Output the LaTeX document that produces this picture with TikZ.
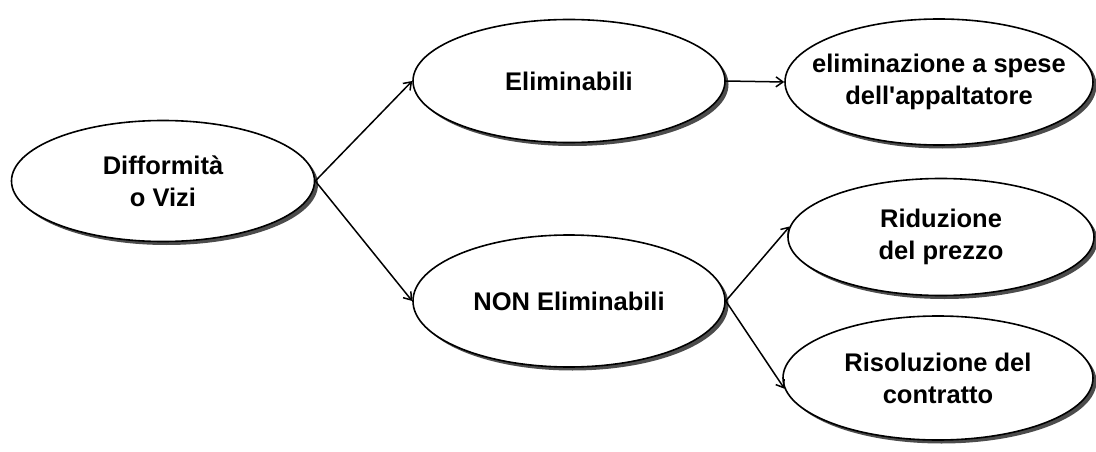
\documentclass[tikz,border=0pt]{standalone}
\usepackage{fontspec}
\setmainfont{Liberation Sans}[Ligatures=TeXOff]
\usetikzlibrary{shapes.geometric,shadows,arrows.meta}
\begin{document}
\begin{tikzpicture}[x=1pt,y=-1pt,
  oval/.style={ellipse, draw=black, line width=1.6pt, fill=white, inner sep=0pt,
    general shadow={fill=black!70, shadow xshift=3.5pt, shadow yshift=-3.5pt}},
  txt/.style={align=center, inner sep=0pt, font=\fontsize{25.5}{32}\selectfont\bfseries},
  conn/.style={line width=1.5pt, -{Straight Barb[length=7pt,width=10pt,line width=1.5pt]}}]
\useasboundingbox (0,0) rectangle (1096,452);
\node[oval, minimum width=303pt, minimum height=121pt] (dv) at (163,181) {};
\node[oval, minimum width=312pt, minimum height=123pt] (el) at (569,81) {};
\node[oval, minimum width=308pt, minimum height=126pt] (sp) at (939,82) {};
\node[oval, minimum width=312pt, minimum height=132pt] (ne) at (569,301) {};
\node[oval, minimum width=306pt, minimum height=117pt] (rp) at (941,237) {};
\node[oval, minimum width=310pt, minimum height=124pt] (rc) at (938,378) {};
\node[txt] (dvt) at (dv.center) {Difformità\\o Vizi};
\node[txt] (elt) at (el.center) {Eliminabili};
\node[txt] (spt) at (sp.center) {eliminazione a spese\\dell'appaltatore};
\node[txt] (net) at (ne.center) {NON Eliminabili};
\node[txt] (rpt) at (rp.center) {Riduzione\\del prezzo};
\node[txt] (rct) at (rc.center) {Risoluzione del\\contratto};
\draw[conn] (dv.east) -- (el.west);
\draw[conn] (dv.east) -- (ne.west);
\draw[conn] (el.east) -- (sp.west);
\draw[conn] (ne.east) -- (rp.176);
\draw[conn] (ne.east) -- (rc.184);
\end{tikzpicture}
\end{document}
